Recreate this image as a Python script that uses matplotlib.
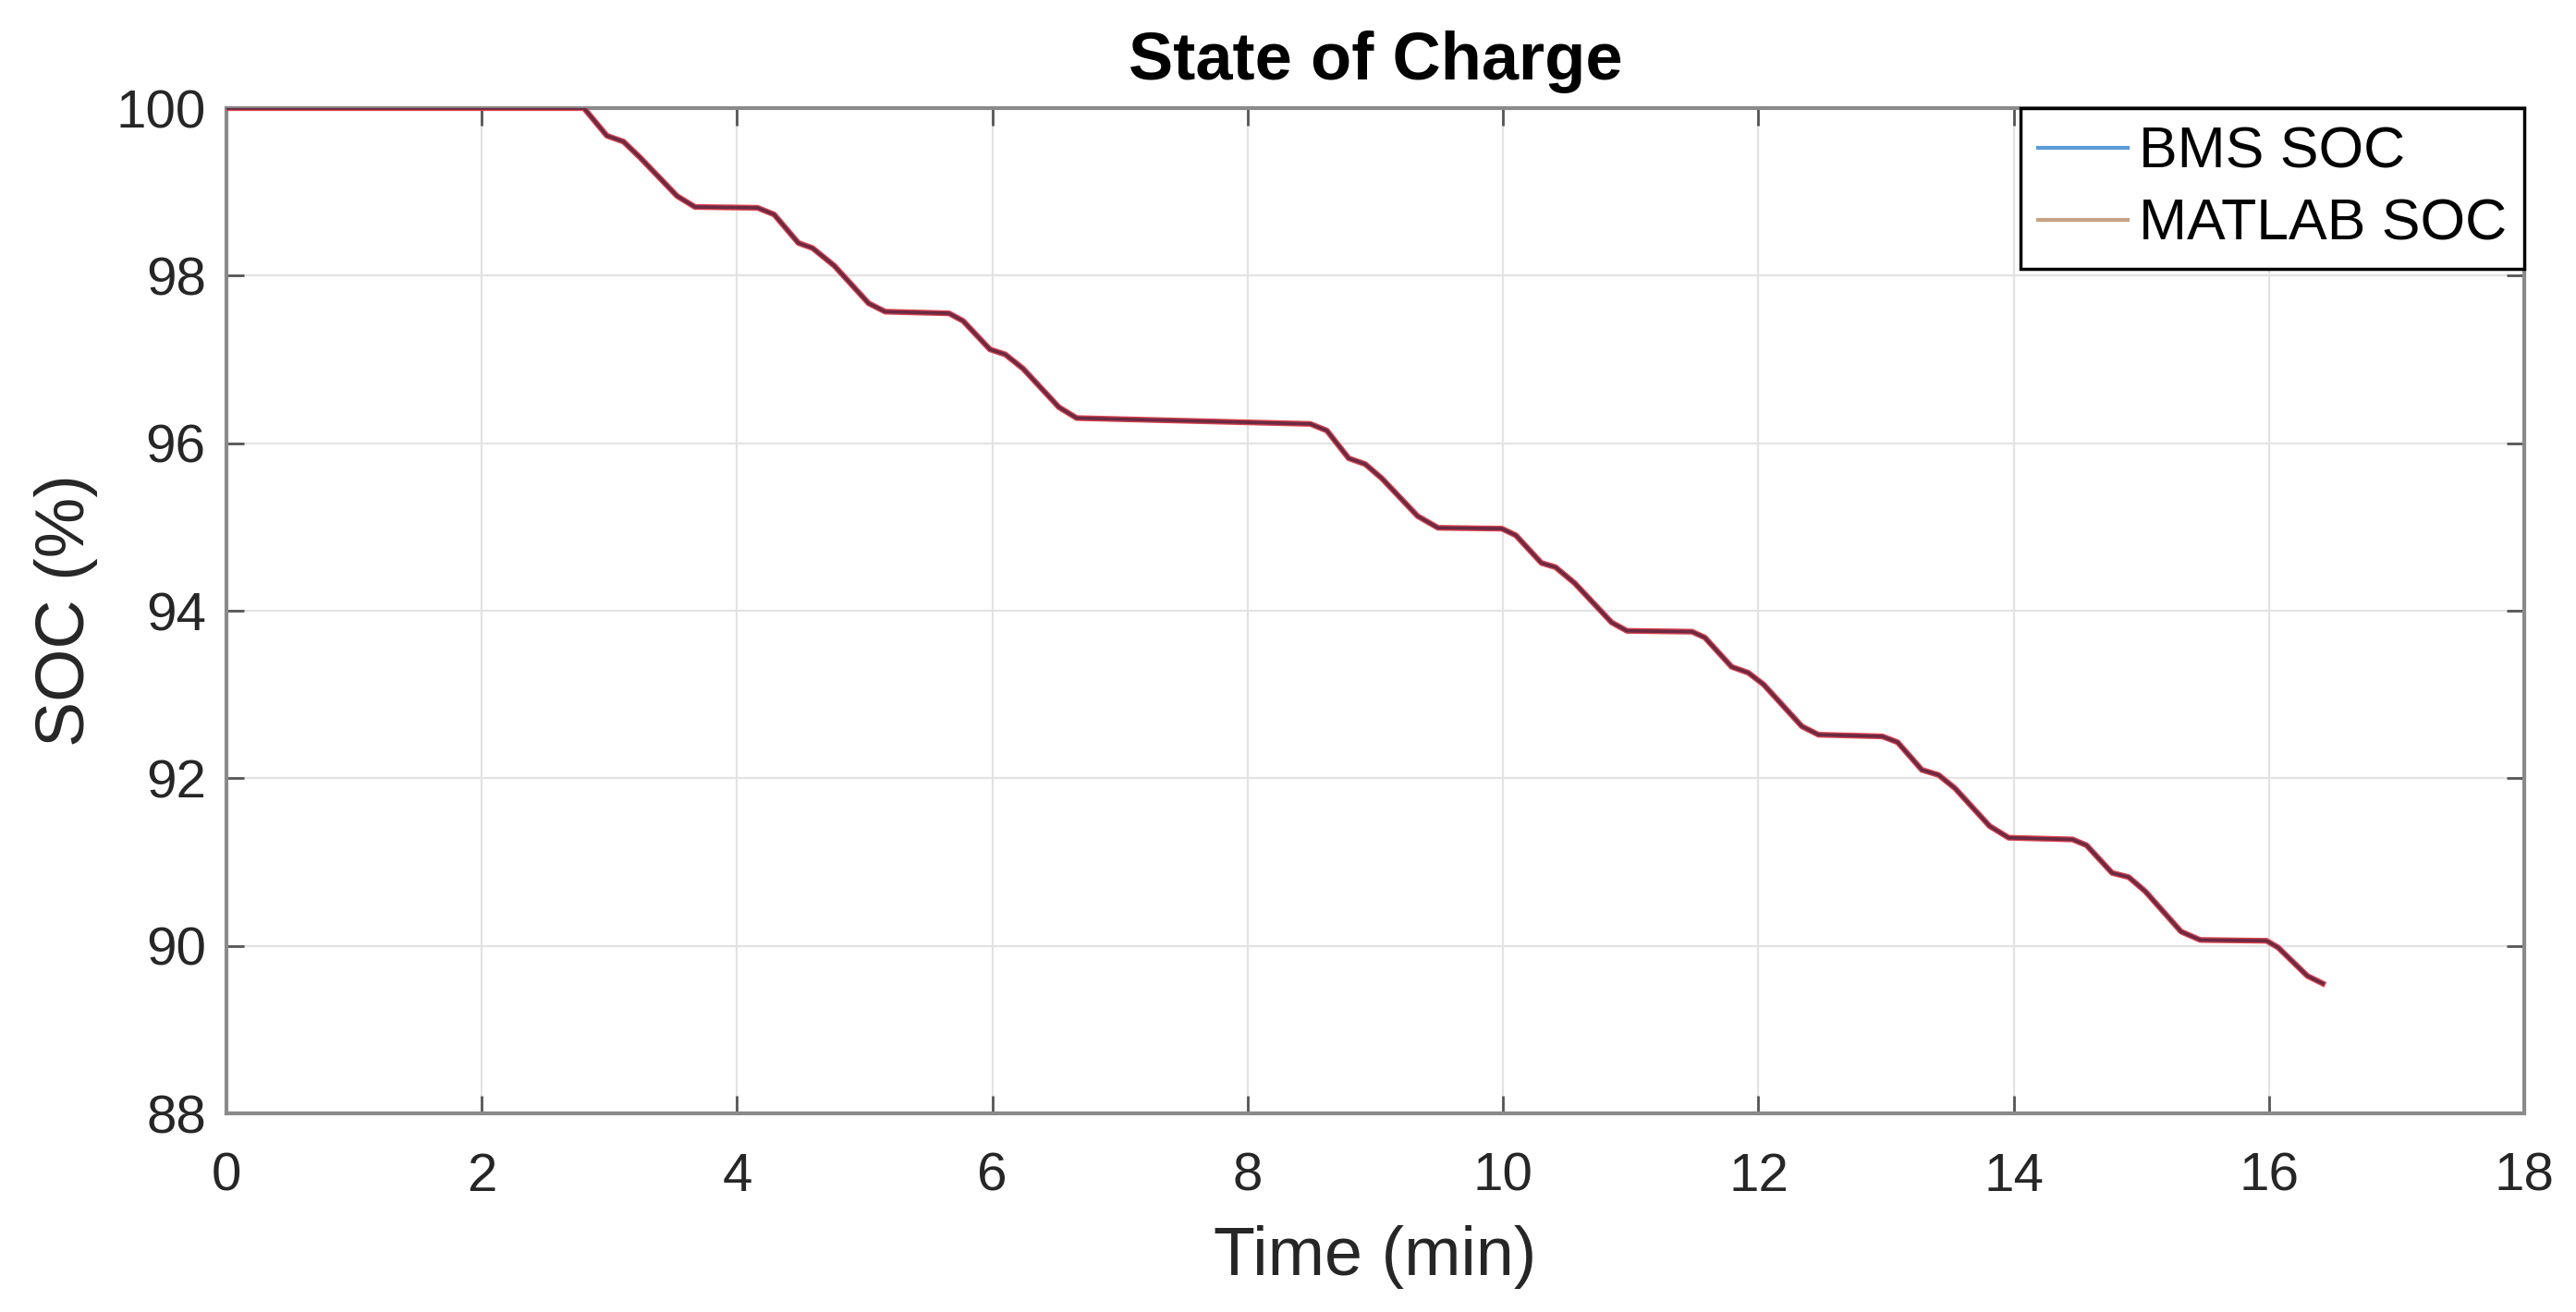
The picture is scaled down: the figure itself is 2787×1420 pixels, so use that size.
import matplotlib
matplotlib.use("Agg")
import matplotlib.pyplot as plt

plt.rcParams['font.family'] = ['Liberation Sans', 'DejaVu Sans']

# time in minutes, SOC in percent
time_min = [0, 2.80, 2.98, 3.11, 3.24, 3.53, 3.67,
            4.16, 4.29, 4.48, 4.59, 4.76,
            5.03, 5.16, 5.66, 5.77, 5.98,
            6.10, 6.24, 6.52, 6.66,
            8.49, 8.62, 8.79, 8.92, 9.05, 9.33, 9.49, 9.99,
            10.10, 10.30, 10.41, 10.56, 10.85, 10.97,
            11.48, 11.58, 11.79, 11.92, 12.04, 12.34, 12.47, 12.97,
            13.09, 13.28, 13.41, 13.54, 13.81, 13.96, 14.46,
            14.57, 14.77, 14.90, 15.03, 15.31, 15.46, 15.98,
            16.07, 16.30, 16.42]
bms_soc = [100, 100, 99.67, 99.60, 99.41, 98.95, 98.82,
           98.81, 98.73, 98.39, 98.33, 98.12,
           97.67, 97.57, 97.55, 97.46, 97.12,
           97.06, 96.89, 96.43, 96.30,
           96.23, 96.15, 95.82, 95.75, 95.58, 95.13, 94.99, 94.98,
           94.90, 94.57, 94.52, 94.33, 93.86, 93.76,
           93.75, 93.68, 93.33, 93.26, 93.12, 92.62, 92.52, 92.50,
           92.43, 92.10, 92.04, 91.88, 91.43, 91.29, 91.27,
           91.20, 90.87, 90.82, 90.65, 90.17, 90.07, 90.06,
           89.98, 89.64, 89.55]
matlab_soc = list(bms_soc)  # the two curves overlap

x_ticks = [0, 2, 4, 6, 8, 10, 12, 14, 16, 18]
y_ticks = [88, 90, 92, 94, 96, 98, 100]

fig = plt.figure(figsize=(27.87, 14.20), dpi=100)
ax = fig.add_axes([0.0879, 0.1514, 0.8921, 0.7662])

# MATLAB curve underneath (red), BMS curve on top (dark)
ax.plot(time_min, matlab_soc, color='#d9434f', lw=4.5, label='MATLAB SOC', zorder=3)
ax.plot(time_min, bms_soc, color='#6b2a42', lw=2.6, label='BMS SOC', zorder=4)

ax.set_xlim(0, 18)
ax.set_ylim(88, 100)
ax.set_xticks(x_ticks)
ax.set_yticks(y_ticks)
ax.grid(True, color='#e3e3e3', lw=1.6)
ax.set_axisbelow(True)

for s in ax.spines.values():
    s.set_color('#8a8a8a')
    s.set_linewidth(3)

ax.tick_params(axis='both', direction='in', length=14, width=2,
               color='#555555', labelsize=42, labelcolor='#262626',
               top=True, right=True)
ax.tick_params(axis='x', pad=30)
ax.tick_params(axis='y', pad=16)

ax.set_xlabel('Time (min)', fontsize=53, color='#262626', labelpad=18)
ax.set_ylabel('SOC (%)', fontsize=53, color='#262626', labelpad=14)
ax.set_title('State of Charge', fontsize=52, fontweight='bold', pad=22)

handles, labels = ax.get_legend_handles_labels()
leg = ax.legend(handles[::-1], labels[::-1], loc='upper right',
                bbox_to_anchor=(1, 1), borderaxespad=0, fontsize=45,
                fancybox=False, framealpha=1, edgecolor='black',
                handlelength=1.55, handletextpad=0.2, borderpad=0.3,
                labelspacing=0.3)
leg.get_frame().set_linewidth(2.5)
leg_colors = ['#5b9bd5', '#c7a285']
for line, c in zip(leg.get_lines(), leg_colors):
    line.set_color(c)
    line.set_linewidth(3)

fig.savefig('out.png', dpi=100, facecolor='white')
